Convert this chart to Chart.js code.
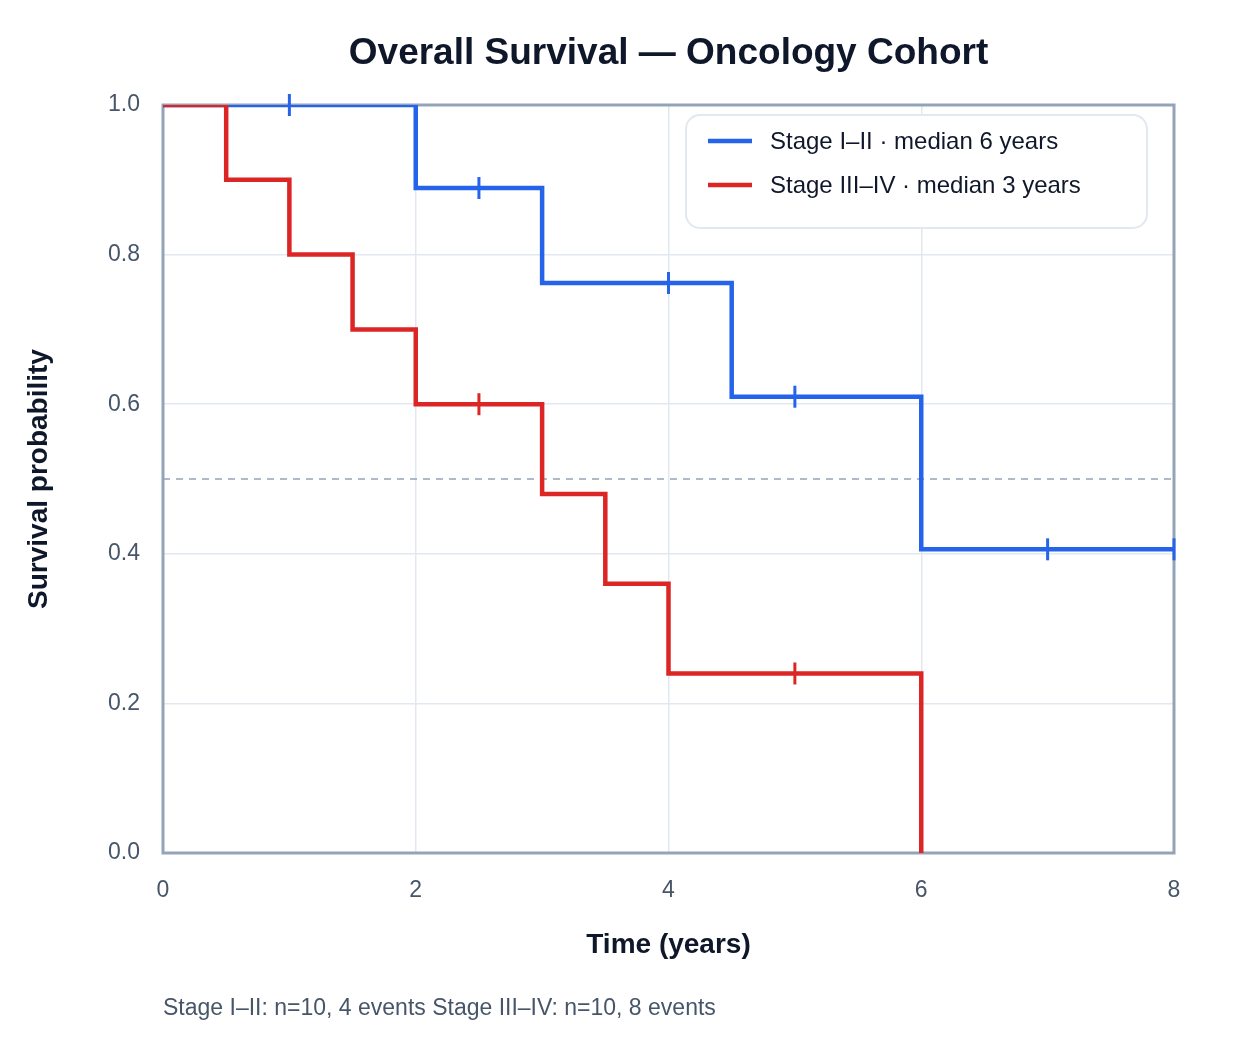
<!DOCTYPE html>
<html>
<head>
<meta charset="utf-8">
<script src="https://cdn.jsdelivr.net/npm/chart.js@4.4.1/dist/chart.umd.min.js"></script>
<style>
  html, body { margin: 0; padding: 0; background: #ffffff; }
  #wrap { width: 1240px; height: 1064px; position: relative; }
</style>
</head>
<body>
<div id="wrap"><canvas id="kmcanvas" width="1240" height="1064"></canvas></div>
<script>
//Kaplan-Meier step points (time in years, survival probability)
var blueTimes = [0, 2, 3, 4.5, 6, 8];
var blueSurv = [1.0, 0.889, 0.762, 0.610, 0.406, 0.406];
var redTimes = [0, 0.5, 1, 1.5, 2, 3, 3.5, 4, 6];
var redSurv = [1.0, 0.9, 0.8, 0.7, 0.6, 0.48, 0.36, 0.24, 0.0];

//Censored observations
var blueCensorTimes = [1, 2.5, 4, 5, 7, 8];
var blueCensorSurv = [1.0, 0.889, 0.762, 0.610, 0.406, 0.406];
var redCensorTimes = [2.5, 5];
var redCensorSurv = [0.6, 0.24];

//Reference line for the median and axis ticks
var medianLevel = 0.5;
var xTicks = [0, 2, 4, 6, 8];
var yTicks = [0, 0.2, 0.4, 0.6, 0.8, 1.0];

var seriesNames = ["Stage I\u2013II \u00b7 median 6 years", "Stage III\u2013IV \u00b7 median 3 years"];
var footerText = "Stage I\u2013II: n=10, 4 events Stage III\u2013IV: n=10, 8 events";

var blue = "#2563eb";
var red = "#dc2626";
var fontName = "'Liberation Sans', Arial, Helvetica, sans-serif";

function toPoints(xs, ys) {
    var pts = [];
    for (var i = 0; i < xs.length; i++) {
        pts.push({ x: xs[i], y: ys[i] });
    }
    return pts;
}

function roundRect(ctx, x, y, w, h, r) {
    ctx.beginPath();
    ctx.moveTo(x + r, y);
    ctx.lineTo(x + w - r, y);
    ctx.arcTo(x + w, y, x + w, y + r, r);
    ctx.lineTo(x + w, y + h - r);
    ctx.arcTo(x + w, y + h, x + w - r, y + h, r);
    ctx.lineTo(x + r, y + h);
    ctx.arcTo(x, y + h, x, y + h - r, r);
    ctx.lineTo(x, y + r);
    ctx.arcTo(x, y, x + r, y, r);
    ctx.closePath();
}

//Frame around the plot area, drawn under the curves
var framePlugin = {
    id: "frame",
    beforeDatasetsDraw: function (chart) {
        var a = chart.chartArea;
        var ctx = chart.ctx;
        ctx.save();
        ctx.strokeStyle = "#94a3b8";
        ctx.lineWidth = 3;
        ctx.strokeRect(a.left, a.top, a.right - a.left, a.bottom - a.top);
        ctx.restore();
    }
};

//Title, axis titles, legend box and footer
var textPlugin = {
    id: "texts",
    afterDraw: function (chart) {
        var a = chart.chartArea;
        var ctx = chart.ctx;
        var cx = (a.left + a.right) / 2;
        var cy = (a.top + a.bottom) / 2;
        ctx.save();

        ctx.fillStyle = "#0f172a";
        ctx.textAlign = "center";
        ctx.textBaseline = "middle";
        ctx.font = "bold 37px " + fontName;
        ctx.fillText("Overall Survival \u2014 Oncology Cohort", cx, 54);

        ctx.font = "bold 28px " + fontName;
        ctx.fillText("Time (years)", cx, 945);

        ctx.save();
        ctx.translate(39, cy);
        ctx.rotate(-Math.PI / 2);
        ctx.fillText("Survival probability", 0, 0);
        ctx.restore();

        //Footer
        ctx.textAlign = "left";
        ctx.fillStyle = "#475569";
        ctx.font = "23px " + fontName;
        ctx.fillText(footerText, a.left, 1009);

        //Legend box
        roundRect(ctx, 686, 115, 461, 113, 14);
        ctx.fillStyle = "#ffffff";
        ctx.fill();
        ctx.strokeStyle = "#e2e8f0";
        ctx.lineWidth = 2;
        ctx.stroke();

        var colors = [blue, red];
        for (var i = 0; i < seriesNames.length; i++) {
            var y = 141 + i * 44;
            ctx.strokeStyle = colors[i];
            ctx.lineWidth = 4.5;
            ctx.beginPath();
            ctx.moveTo(708, y);
            ctx.lineTo(752, y);
            ctx.stroke();
            ctx.fillStyle = "#0f172a";
            ctx.font = "24px " + fontName;
            ctx.fillText(seriesNames[i], 770, y + 1);
        }
        ctx.restore();
    }
};

var datasets = [
    {
        label: seriesNames[0],
        data: toPoints(blueTimes, blueSurv),
        borderColor: blue,
        borderWidth: 4.5,
        stepped: "before",
        pointRadius: 0,
        fill: false,
        borderJoinStyle: "miter",
        order: 2
    },
    {
        label: seriesNames[1],
        data: toPoints(redTimes, redSurv),
        borderColor: red,
        borderWidth: 4.5,
        stepped: "before",
        pointRadius: 0,
        fill: false,
        borderJoinStyle: "miter",
        order: 1
    },
    {
        label: "censor1",
        type: "scatter",
        data: toPoints(blueCensorTimes, blueCensorSurv),
        pointStyle: "line",
        rotation: 90,
        pointRadius: 11,
        borderColor: blue,
        pointBorderWidth: 3,
        clip: false,
        order: 0
    },
    {
        label: "censor2",
        type: "scatter",
        data: toPoints(redCensorTimes, redCensorSurv),
        pointStyle: "line",
        rotation: 90,
        pointRadius: 11,
        borderColor: red,
        pointBorderWidth: 3,
        clip: false,
        order: 0
    },
    {
        label: "median",
        data: toPoints([xTicks[0], xTicks[xTicks.length - 1]], [medianLevel, medianLevel]),
        borderColor: "#94a3b8",
        borderWidth: 1.5,
        borderDash: [7, 6],
        pointRadius: 0,
        fill: false,
        order: 3
    }
];

var chart = new Chart(document.getElementById("kmcanvas").getContext("2d"), {
    type: "line",
    data: { datasets: datasets },
    options: {
        responsive: false,
        animation: false,
        layout: { padding: { left: 20, right: 66, top: 105, bottom: 0 } },
        plugins: {
            legend: { display: false },
            title: { display: false },
            tooltip: { enabled: false }
        },
        scales: {
            x: {
                type: "linear",
                min: 0,
                max: 8,
                afterFit: function (scale) { scale.height = 211; },
                afterBuildTicks: function (scale) {
                    scale.ticks = xTicks.map(function (v) { return { value: v }; });
                },
                grid: { color: "#e2e8f0", lineWidth: 1.5, drawTicks: false },
                border: { display: false },
                ticks: {
                    padding: 24,
                    color: "#475569",
                    font: { family: fontName, size: 23 }
                }
            },
            y: {
                type: "linear",
                min: 0,
                max: 1,
                afterFit: function (scale) { scale.width = 143; },
                afterBuildTicks: function (scale) {
                    scale.ticks = yTicks.map(function (v) { return { value: v }; });
                },
                grid: { color: "#e2e8f0", lineWidth: 1.5, drawTicks: false },
                border: { display: false },
                ticks: {
                    padding: 23,
                    color: "#475569",
                    font: { family: fontName, size: 23 },
                    callback: function (v) { return v.toFixed(1); }
                }
            }
        }
    },
    plugins: [framePlugin, textPlugin]
});
</script>
</body>
</html>
